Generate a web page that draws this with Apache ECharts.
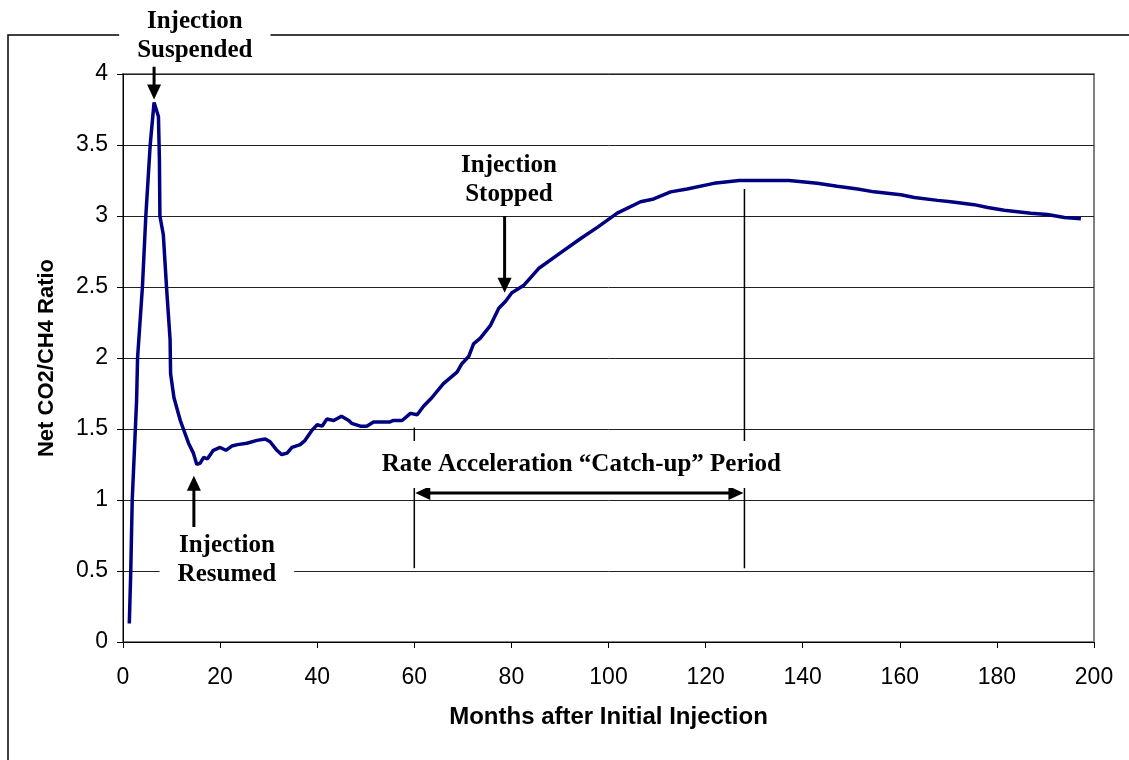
<!DOCTYPE html>
<html>
<head>
<meta charset="utf-8">
<script src="https://cdn.jsdelivr.net/npm/echarts@6/dist/echarts.min.js"></script>
<style>
html, body { margin: 0; background: #fff; }
#chart { width: 1129px; height: 760px; }
</style>
</head>
<body>
<div id="chart"></div>
<script>
// months after initial injection and the net CO2/CH4 ratio
const months = [1.3, 1.6, 1.9, 2.8, 3.0, 4.0, 4.7, 5.6, 6.4, 7.3, 7.5, 7.6, 8.3, 9.0, 9.7, 9.8, 10.5, 11.8,
  13.5, 14.5, 15.2, 15.9, 16.6, 17.4, 18.6, 20, 21.2, 22.4, 23.6, 25.5, 27.6, 29.3, 30.3, 31.7, 32.7,
  33.8, 34.8, 36.5, 37.5, 38.9, 40, 41, 42, 43.4, 45, 46.5, 47.1, 48.9, 50.2, 51.6, 55, 55.7, 57.5,
  59.2, 60.6, 61.9, 63.6, 66, 67.4, 68.8, 69.8, 71.2, 72.2, 73.6, 75.7, 77.4, 78.8, 80.1, 82.5, 85.6,
  90.1, 94.2, 97.7, 101.8, 106.6, 109.3, 112.8, 116.2, 121.7, 126.9, 137.2, 143, 147.1, 151.3, 154.7,
  160.2, 163, 167.8, 170.5, 175.3, 178.1, 181.5, 187, 190.4, 193.9, 197.3];
const ratio = [0.13, 0.5, 1.0, 1.7, 2.0, 2.5, 3.0, 3.5, 3.8, 3.7, 3.4, 3.0, 2.87, 2.48, 2.13, 1.89, 1.72, 1.56,
  1.40, 1.33, 1.25, 1.26, 1.30, 1.29, 1.35, 1.37, 1.35, 1.38, 1.39, 1.40, 1.42, 1.43, 1.41, 1.35, 1.32,
  1.33, 1.37, 1.39, 1.42, 1.49, 1.53, 1.52, 1.57, 1.56, 1.59, 1.56, 1.54, 1.52, 1.52, 1.55, 1.55, 1.56, 1.56,
  1.61, 1.60, 1.66, 1.72, 1.82, 1.86, 1.90, 1.96, 2.01, 2.10, 2.14, 2.23, 2.35, 2.40, 2.46, 2.51, 2.63,
  2.74, 2.84, 2.92, 3.02, 3.10, 3.12, 3.17, 3.19, 3.23, 3.25, 3.25, 3.23, 3.21, 3.19, 3.17,
  3.15, 3.13, 3.11, 3.10, 3.08, 3.06, 3.04, 3.02, 3.01, 2.99, 2.98];

// annotations, in data coordinates (month, ratio)
const notes = [
  { text: 'Injection\nSuspended', at: [14.8, 4.27] },
  { text: 'Injection\nResumed', at: [21.4, 0.58] },
  { text: 'Injection\nStopped', at: [79.5, 3.25] }
];
const arrows = [
  { month: 6.4, from: 4.08, to: 3.82 },
  { month: 14.6, from: 0.81, to: 1.17 },
  { month: 78.6, from: 3.0, to: 2.46 }
];
const catchUp = { text: 'Rate Acceleration \u201cCatch-up\u201d Period', label: [94.4, 1.25],
  start: 60, end: 128, arrowAt: 1.05, base: 0.52, startTop: 1.51, endTop: 3.19 };

const chart = echarts.init(document.getElementById('chart'));
const sans = 'Liberation Sans';

chart.setOption({
  animation: false,
  grid: { left: 123, right: 35, top: 74, bottom: 118, show: true, borderColor: '#808080', borderWidth: 2 },
  xAxis: {
    type: 'value', min: 0, max: 200, interval: 20,
    name: 'Months after Initial Injection', nameLocation: 'middle', nameGap: 63,
    nameTextStyle: { fontFamily: sans, fontWeight: 'bold', fontSize: 24, color: '#000' },
    axisLine: { lineStyle: { color: '#000', width: 1 } },
    axisTick: { inside: false, length: 6, lineStyle: { color: '#000' } },
    axisLabel: { fontFamily: sans, fontSize: 23, color: '#000', margin: 24 },
    splitLine: { show: false }
  },
  yAxis: {
    type: 'value', min: 0, max: 4, interval: 0.5,
    name: 'Net CO2/CH4 Ratio', nameLocation: 'middle', nameGap: 65, nameRotate: 90,
    nameTextStyle: { fontFamily: sans, fontWeight: 'bold', fontSize: 22, color: '#000' },
    axisLine: { show: true, lineStyle: { color: '#000', width: 1 } },
    axisTick: { show: true, length: 6, lineStyle: { color: '#000' } },
    axisLabel: { fontFamily: sans, fontSize: 23, color: '#000', margin: 15 },
    splitLine: { lineStyle: { color: '#222', width: 1 } }
  },
  series: [{
    type: 'line',
    data: months.map((m, i) => [m, ratio[i]]),
    showSymbol: false,
    lineStyle: { color: '#000080', width: 3.5 },
    z: 5
  }]
});

function px(m, v) { return chart.convertToPixel({ gridIndex: 0 }, [m, v]); }

const serif = 'bold 25px "Liberation Serif"';
const g = [];

// outer frame of the chart area
g.push({ type: 'rect', shape: { x: 8, y: 35, width: 1200, height: 800 },
  style: { fill: 'none', stroke: '#000', lineWidth: 1.5 }, z: 1 });

// arrows pointing at the curve
arrows.forEach(a => {
  const p0 = px(a.month, a.from), p1 = px(a.month, a.to);
  const dir = p1[1] > p0[1] ? 1 : -1;
  g.push({ type: 'line', shape: { x1: p0[0], y1: p0[1], x2: p1[0], y2: p1[1] - dir * 10 },
    style: { stroke: '#000', lineWidth: 3 }, z: 20 });
  g.push({ type: 'polygon', shape: { points: [[p1[0], p1[1]], [p1[0] - 7, p1[1] - dir * 15], [p1[0] + 7, p1[1] - dir * 15]] },
    style: { fill: '#000' }, z: 20 });
});

// catch-up period markers
const s0 = px(catchUp.start, catchUp.base), s1 = px(catchUp.start, catchUp.startTop);
const e0 = px(catchUp.end, catchUp.base), e1 = px(catchUp.end, catchUp.endTop);
g.push({ type: 'line', shape: { x1: s0[0], y1: s0[1], x2: s1[0], y2: s1[1] }, style: { stroke: '#000', lineWidth: 1.5 }, z: 20 });
g.push({ type: 'line', shape: { x1: e0[0], y1: e0[1], x2: e1[0], y2: e1[1] }, style: { stroke: '#000', lineWidth: 1.5 }, z: 20 });
const a0 = px(catchUp.start, catchUp.arrowAt), a1 = px(catchUp.end, catchUp.arrowAt);
g.push({ type: 'line', shape: { x1: a0[0] + 10, y1: a0[1], x2: a1[0] - 10, y2: a1[1] }, style: { stroke: '#000', lineWidth: 3 }, z: 20 });
g.push({ type: 'polygon', shape: { points: [[a0[0] + 1, a0[1]], [a0[0] + 16, a0[1] - 7], [a0[0] + 16, a0[1] + 7]] }, style: { fill: '#000' }, z: 20 });
g.push({ type: 'polygon', shape: { points: [[a1[0] - 1, a1[1]], [a1[0] - 16, a1[1] - 7], [a1[0] - 16, a1[1] + 7]] }, style: { fill: '#000' }, z: 20 });

// text boxes with white backing, hiding the lines behind them
notes.concat([{ text: catchUp.text, at: catchUp.label, pad: [9, 10] }]).forEach(n => {
  const p = px(n.at[0], n.at[1]);
  g.push({ type: 'text', x: p[0], y: p[1], z: 50,
    style: { text: n.text, font: serif, fill: '#000', align: 'center', verticalAlign: 'middle',
      lineHeight: 29, backgroundColor: '#fff', padding: n.pad || [2, 18] } });
});

chart.setOption({ graphic: g });
</script>
</body>
</html>
